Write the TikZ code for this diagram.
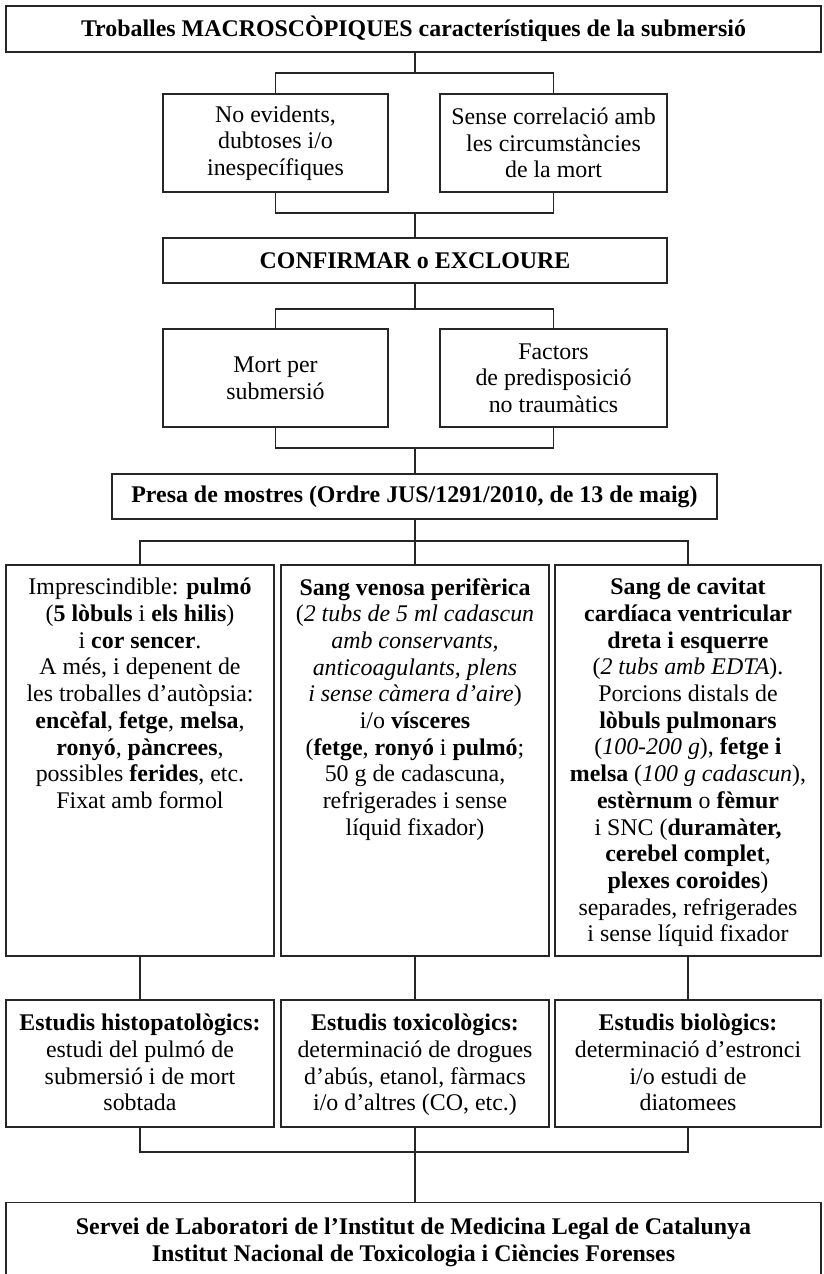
\documentclass[tikz,border=0pt]{standalone}
\usepackage{fontspec}
\setmainfont{Liberation Serif}
\begin{document}
\begin{tikzpicture}[x=1pt,y=-1pt,
  box/.style={draw=black!85,line width=1.1pt,inner sep=0pt,align=center},
  txt/.style={inner sep=0pt,align=center},
  link/.style={draw=black!85,line width=1.1pt},
  every node/.append style={font=\fontsize{23.9}{26.7}\selectfont}]
\useasboundingbox (0,0) rectangle (823,1274);
\clip (0,0) rectangle (823,1274);
% boxes
\node[box,minimum width=815,minimum height=46] (top) at (413.5,29) {\textbf{Troballes MACROSCÒPIQUES característiques de la submersió}};
\node[box,minimum width=225,minimum height=98] (a) at (275.5,143) {No evidents,\\dubtoses i/o\\inespecífiques};
\node[box,minimum width=227,minimum height=98] (b) at (553.5,143) {Sense correlació amb\\les circumstàncies\\de la mort};
\node[box,minimum width=504,minimum height=45] (conf) at (415,260.5) {\textbf{CONFIRMAR o EXCLOURE}};
\node[box,minimum width=225,minimum height=98] (c) at (275.5,378) {Mort per\\submersió};
\node[box,minimum width=227,minimum height=98] (d) at (553.5,378) {Factors\\de predisposició\\no traumàtics};
\node[box,minimum width=605,minimum height=45] (presa) at (414.5,496.5) {\textbf{Presa de mostres (Ordre JUS/1291/2010, de 13 de maig)}};
\node[box,minimum width=268,minimum height=391] (s1) at (140,760.5) {};
\node[box,minimum width=268,minimum height=391] (s2) at (415,760.5) {};
\node[box,minimum width=266,minimum height=391] (s3) at (688,760.5) {};
\node[txt,anchor=north] (t1) at (140,578) {Imprescindible: \textbf{pulmó}\\(\textbf{5 lòbuls} i \textbf{els hilis})\\i \textbf{cor sencer}.\\A més, i depenent de\\les troballes d’autòpsia:\\\textbf{encèfal}, \textbf{fetge}, \textbf{melsa},\\\textbf{ronyó}, \textbf{pàncrees},\\possibles \textbf{ferides}, etc.\\Fixat amb formol};
\node[txt,anchor=north] (t2) at (415,578) {\textbf{Sang venosa perifèrica}\\(\textit{2 tubs de 5 ml cadascun}\\\textit{amb conservants,}\\\textit{anticoagulants, plens}\\\textit{i sense càmera d’aire})\\i/o \textbf{vísceres}\\(\textbf{fetge}, \textbf{ronyó} i \textbf{pulmó};\\50 g de cadascuna,\\refrigerades i sense\\líquid fixador)};
\node[txt,anchor=north] (t3) at (688,578) {\textbf{Sang de cavitat}\\\textbf{cardíaca ventricular}\\\textbf{dreta i esquerre}\\(\textit{2 tubs amb EDTA}).\\Porcions distals de\\\textbf{lòbuls pulmonars}\\(\textit{100-200 g}), \textbf{fetge i}\\\textbf{melsa} (\textit{100 g cadascun}),\\\textbf{estèrnum} o \textbf{fèmur}\\i SNC (\textbf{duramàter,}\\\textbf{cerebel complet},\\\textbf{plexes coroides})\\separades, refrigerades\\i sense líquid fixador};
\node[box,minimum width=268,minimum height=127] (e1) at (140,1063.5) {};
\node[box,minimum width=268,minimum height=127] (e2) at (415,1063.5) {};
\node[box,minimum width=266,minimum height=127] (e3) at (688,1063.5) {};
\node[txt,anchor=north] (u1) at (140,1014) {\textbf{Estudis histopatològics:}\\estudi del pulmó de\\submersió i de mort\\sobtada};
\node[txt,anchor=north] (u2) at (415,1014) {\textbf{Estudis toxicològics:}\\determinació de drogues\\d’abús, etanol, fàrmacs\\i/o d’altres (CO, etc.)};
\node[txt,anchor=north] (u3) at (688,1014) {\textbf{Estudis biològics:}\\determinació d’estronci\\i/o estudi de\\diatomees};
\node[box,minimum width=815,minimum height=100,anchor=north] (bot) at (413.5,1202) {};
\node[txt] (bt) at (413.5,1242) {\textbf{Servei de Laboratori de l’Institut de Medicina Legal de Catalunya}\\\textbf{Institut Nacional de Toxicologia i Ciències Forenses}};
% junctions
\coordinate (j1) at (415,73);
\coordinate (j2) at (415,213);
\coordinate (j3) at (415,309);
\coordinate (j4) at (415,448);
\coordinate (j5) at (415,541);
\coordinate (j6) at (415,1152);
% connectors
\draw[link] (top.south -| j1) -- (j1);
\draw[link] (a.north) |- (j1) -| (b.north);
\draw[link] (a.south) |- (j2) -| (b.south);
\draw[link] (j2) -- (conf.north -| j2);
\draw[link] (conf.south -| j3) -- (j3);
\draw[link] (c.north) |- (j3) -| (d.north);
\draw[link] (c.south) |- (j4) -| (d.south);
\draw[link] (j4) -- (presa.north -| j4);
\draw[link] (presa.south -| j5) -- (s2.north);
\draw[link] (s1.north) |- (j5) -| (s3.north);
\draw[link] (s1.south) -- (e1.north);
\draw[link] (s2.south) -- (e2.north);
\draw[link] (s3.south) -- (e3.north);
\draw[link] (e1.south) |- (j6) -| (e3.south);
\draw[link] (e2.south) -- (bot.north -| e2.south);
\end{tikzpicture}
\end{document}
